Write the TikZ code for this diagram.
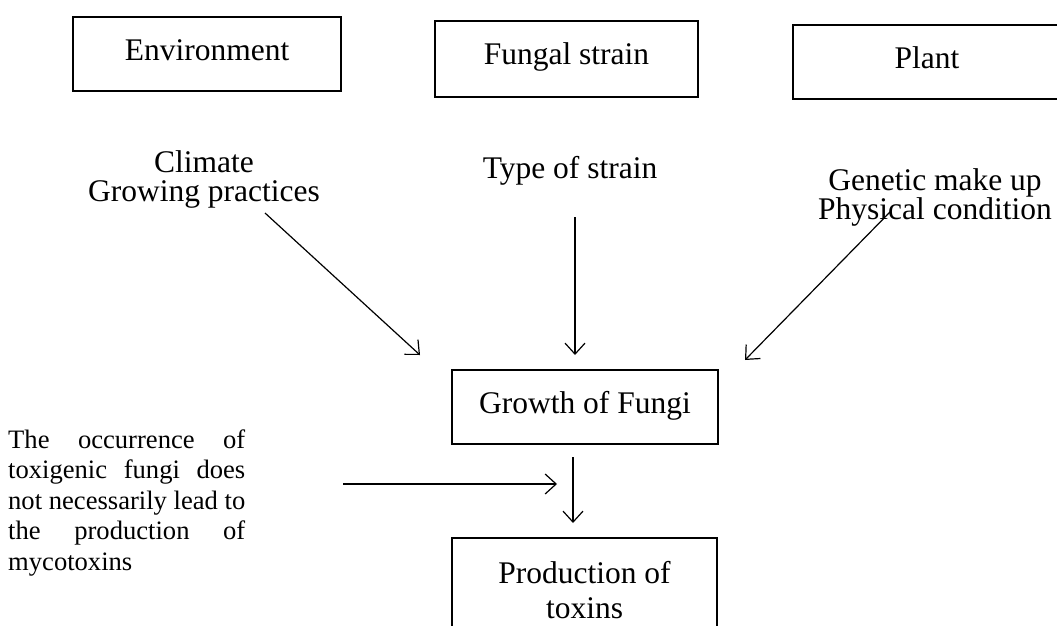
\documentclass[tikz,border=0pt]{standalone}
\usepackage{fontspec}
\setmainfont{Liberation Serif}
\usetikzlibrary{arrows.meta}
\newlength\parw
\newcommand\parafont{\fontsize{26.6}{30.5}\selectfont}
\begin{document}
\settowidth\parw{\parafont not necessarily lead to}%
\begin{tikzpicture}[x=1pt,y=-1pt,
  boxnode/.style={draw, line width=1.3pt, inner sep=0pt, text height=22pt, text depth=10pt,
    font=\fontsize{31.5}{35}\selectfont},
  lbl/.style={inner sep=0pt, align=center, font=\fontsize{31.5}{29}\selectfont},
  para/.style={inner sep=0pt, align=left, font=\parafont},
  arr/.style={line width=1.2pt, -{Straight Barb[length=11pt,width=20pt,line width=1.2pt]}}]
\useasboundingbox (0,0) rectangle (1057,626);
\clip (0,0) rectangle (1057,626);
% top boxes
\node[boxnode, minimum width=268pt, minimum height=74pt] (env) at (207,54) {Environment};
\node[boxnode, minimum width=263pt, minimum height=76pt] (fun) at (566.5,59) {Fungal strain};
\node[boxnode, minimum width=268pt, minimum height=74pt] (pla) at (927,62) {Plant};
% labels
\node[lbl, anchor=base] (clim) at (204,201) {Climate\\Growing practices};
\node[lbl, anchor=base] (type) at (570,178) {Type of strain};
\node[lbl, anchor=base] (gen) at (935,219) {Genetic make up\\Physical condition};
% middle boxes
\node[boxnode, minimum width=266pt, minimum height=74pt] (gro) at (585,407) {Growth of Fungi};
\node[draw, line width=1.3pt, inner sep=0pt, align=center, minimum width=265pt, minimum height=104pt,
  font=\fontsize{31.5}{35}\selectfont] (pro) at (584.5,590) {Production of\\toxins};
% paragraph
\node[para, anchor=base west] (note) at (8,570) {\hbox to\parw{The\hfill occurrence\hfill of}\\
  \hbox to\parw{toxigenic\hfill fungi\hfill does}\\
  not necessarily lead to\\
  \hbox to\parw{the\hfill production\hfill of}\\
  mycotoxins};
% connector ends
\coordinate (c1s) at (265,213);
\coordinate (c1e) at (420,355);
\coordinate (c2s) at (575,217);
\coordinate (c2e) at (575,355);
\coordinate (c3s) at (890,212);
\coordinate (c3e) at (745,360);
\coordinate (c4s) at (573,457);
\coordinate (c4e) at (573,523);
\coordinate (c5s) at (343,484);
\coordinate (c5e) at (557,484);
\draw[arr] (c1s) -- (c1e);
\draw[arr] (c2s) -- (c2e);
\draw[arr] (c3s) -- (c3e);
\draw[arr] (c4s) -- (c4e);
\draw[arr] (c5s) -- (c5e);
\end{tikzpicture}
\end{document}
